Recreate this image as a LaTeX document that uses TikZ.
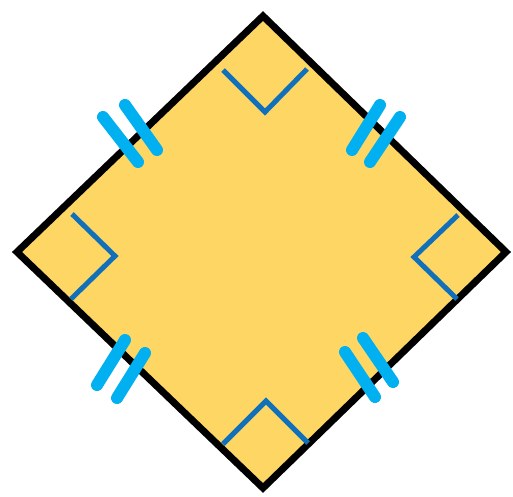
\documentclass[tikz,border=0pt]{standalone}
\definecolor{sqfill}{RGB}{253,214,99}
\definecolor{anglemark}{RGB}{16,112,186}
\definecolor{tickblue}{RGB}{0,176,240}
\begin{document}
\begin{tikzpicture}[x=1pt,y=-1pt,
  rightmark/.style={draw=anglemark, line width=5pt},
  tickmark/.style={draw=tickblue, line width=12pt, line cap=round}]
  \useasboundingbox (0,0) rectangle (513,496);
  % the square, standing on a corner
  \coordinate (T) at (263,16);
  \coordinate (R) at (506,252);
  \coordinate (B) at (263,488);
  \coordinate (L) at (17,252);
  \filldraw[fill=sqfill, draw=black, line width=7pt] (T) -- (R) -- (B) -- (L) -- cycle;
  % right angle marks
  \draw[rightmark] (223,70) -- (265,112) -- (307,69);
  \draw[rightmark] (458,215) -- (414,257) -- (457,299);
  \draw[rightmark] (223,444) -- (266,401) -- (308,443);
  \draw[rightmark] (72,214) -- (115,256) -- (71,299);
  % equal side ticks
  \draw[tickmark] (103,117) -- (138,162);
  \draw[tickmark] (125,105) -- (157,150);
  \draw[tickmark] (380,105) -- (352,150);
  \draw[tickmark] (400,117) -- (370,162);
  \draw[tickmark] (125,340) -- (97,385);
  \draw[tickmark] (145,353) -- (117,398);
  \draw[tickmark] (345,352) -- (375,397);
  \draw[tickmark] (363,338) -- (393,382);
\end{tikzpicture}
\end{document}
